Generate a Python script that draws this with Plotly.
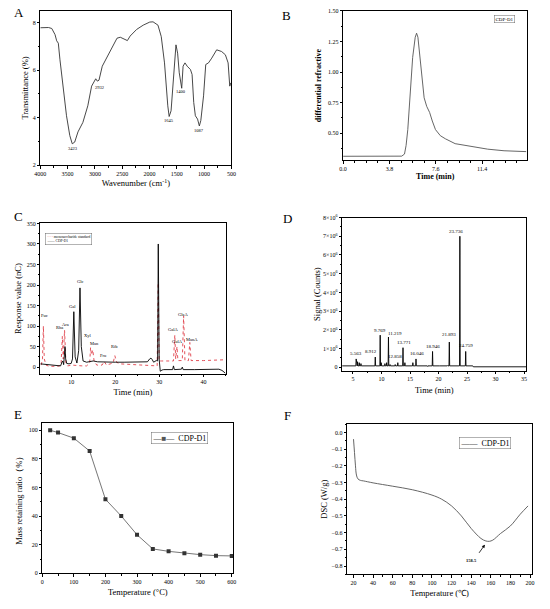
import plotly.graph_objects as go

SERIF = "Liberation Serif"

# ── A: FTIR ──────────────────────────────────────────────────────────────────
ftir_wn = [4000, 3850, 3790, 3730, 3700, 3670, 3640, 3580, 3520, 3460, 3415, 3370,
           3310, 3220, 3130, 3060, 3010, 2985, 2955, 2925, 2865, 2775, 2685, 2595,
           2535, 2445, 2405, 2355, 2235, 2115, 1995, 1935, 1845, 1785, 1725, 1665,
           1640, 1605, 1545, 1515, 1485, 1455, 1410, 1385, 1350, 1310, 1250, 1220,
           1190, 1160, 1120, 1087, 1060, 1010, 970, 920, 860, 770, 680, 610, 560,
           530, 510]
ftir_t = [7.79, 7.80, 7.76, 7.50, 7.24, 7.14, 6.44, 5.20, 4.08, 3.25, 2.90, 2.97,
          3.40, 3.80, 4.50, 5.33, 5.58, 5.64, 5.54, 5.58, 6.17, 6.58, 7.00, 7.35,
          7.39, 7.30, 7.25, 7.44, 7.72, 7.90, 8.03, 8.04, 7.90, 7.42, 6.31, 4.50,
          4.05, 4.29, 6.31, 7.07, 6.72, 5.89, 5.24, 6.17, 6.31, 6.17, 6.03, 5.82,
          4.64, 4.08, 3.94, 3.65, 3.88, 4.92, 6.24, 6.31, 6.51, 6.86, 6.79, 6.65,
          6.31, 5.33, 5.47]
ftir_lab = ["3423", "2932", "1645", "1400", "1087"]
ftir_lab_x = [3405, 2915, 1650, 1415, 1090]
ftir_lab_y = [2.72, 5.27, 3.86, 5.10, 3.45]

# ── B: HPGPC ─────────────────────────────────────────────────────────────────
gpc_t = [0.0, 2.0, 4.0, 4.8, 5.03, 5.16, 5.30, 5.49, 5.70, 5.91, 6.02, 6.13, 6.32,
         6.50, 6.64, 6.85, 7.09, 7.31, 7.57, 7.97, 8.38, 9.18, 10.52, 11.85,
         13.19, 15.0]
gpc_v = [0.312, 0.312, 0.312, 0.313, 0.33, 0.40, 0.53, 0.855, 1.12, 1.285, 1.318,
         1.285, 1.10, 0.88, 0.79, 0.72, 0.67, 0.60, 0.53, 0.48, 0.455, 0.415,
         0.39, 0.37, 0.357, 0.35]

# ── C: HPAEC ─────────────────────────────────────────────────────────────────
cdp_t = [3.0, 4.0, 5.0, 6.0, 7.0, 7.6, 7.9, 8.1, 8.3, 8.5, 8.6, 8.75, 9.0, 9.5,
         10.0, 10.3, 10.6, 10.9, 11.3, 11.7, 12.0, 12.3, 12.7, 13.5, 14.5, 15.0,
         16.0, 18.0, 20.0, 22.0, 24.0, 26.0, 27.3, 27.8, 28.1, 28.4, 28.7, 29.0,
         29.3, 29.6, 29.75, 29.95, 30.2, 30.6, 31.0, 33.0, 33.2, 33.4, 35.0, 35.2,
         35.4, 38.0, 42.0, 43.5, 44.2, 45.0]
cdp_v = [8, 7, 5, 4, 3, 3, 12, 15, 6, 30, 50, 20, 9, 8, 9, 20, 135, 25, 10, 40,
         193, 50, 15, 12, 15, 15, 13, 12, 12, 12, 12, 12, 13, 20, 22, 18, 12, 14,
         16, 15, 300, 20, -10, -7, -6, -6, 3, -6, -5, 0, -6, -6, -5, -5, -8, -15]
std_t = [3.2, 3.5, 3.7, 3.9, 4.3, 5.0, 7.0, 7.7, 8.0, 8.2, 8.5, 8.8, 9.2, 10.2,
         12.5, 13.5, 14.2, 14.4, 14.6, 14.9, 15.2, 15.8, 17.0, 17.5, 18.0, 19.5,
         19.9, 20.3, 21.0, 24.0, 27.0, 28.0, 29.5, 29.75, 29.95, 30.5, 33.2, 33.5,
         33.7, 34.0, 34.2, 35.2, 35.5, 35.8, 36.6, 36.9, 37.2, 40.0, 45.0]
std_v = [5, 20, 100, 20, 5, 2, 2, 5, 75, 20, 90, 10, 3, 5, 3, 3, 10, 48, 30, 42,
         15, 5, 5, 14, 5, 10, 28, 12, 8, 6, 5, 3, 3, 205, 15, 15, 15, 78, 20, 50,
         16, 16, 125, 16, 16, 60, 16, 16, 18]
mono_lab = ["Fuc", "Rha", "Ara", "Gal", "Glc", "Xyl", "Man", "Fru", "Rib",
            "GalA", "GulA", "GlcA", "ManA"]
mono_x = [4.0, 7.4, 8.7, 10.3, 12.1, 13.9, 15.2, 17.4, 19.9, 33.1, 34.0, 35.3, 37.4]
mono_y = [126, 97, 104, 147, 208, 78, 58, 28, 50, 92, 62, 128, 68]

# ── D: GC-MS ─────────────────────────────────────────────────────────────────
gc_peak_t = [4.8, 5.56, 5.8, 6.1, 6.4, 8.91, 9.77, 9.95, 10.6, 10.9, 11.22, 11.5,
             12.4, 12.86, 13.77, 14.1, 15.5, 16.05, 18.1, 18.95, 20.2, 21.6,
             21.89, 23.74, 24.76]
gc_peak_h = [0.12, 0.45, 0.30, 0.25, 0.20, 0.55, 1.72, 0.25, 0.20, 0.25, 1.62,
             0.15, 0.15, 0.25, 1.05, 0.25, 0.25, 0.45, 0.05, 0.85, 0.07, 0.10,
             1.35, 7.0, 0.85]
gc_lab = ["5.563", "8.912", "9.769", "11.219", "12.858", "13.771", "16.046",
          "18.946", "21.893", "23.736", "24.759"]
gc_lab_x = [5.6, 8.2, 9.8, 12.3, 12.3, 13.9, 16.3, 19.0, 21.9, 23.1, 24.9]
gc_lab_y = [0.74, 0.83, 1.97, 1.83, 0.56, 1.32, 0.74, 1.14, 1.74, 7.26, 1.16]

# ── E: TGA ───────────────────────────────────────────────────────────────────
tga_temp = [25, 50, 100, 150, 200, 250, 300, 350, 400, 450, 500, 550, 600]
tga_mass = [100, 98.4, 94.5, 85.5, 51.8, 40.1, 27.0, 17.1, 15.4, 14.0, 13.1, 12.4, 12.2]

# ── F: DSC ───────────────────────────────────────────────────────────────────
dsc_temp = [20, 21, 22, 23, 24.5, 27, 30, 40, 60, 80, 100, 110, 120, 130, 140,
            150, 155, 158.5, 162, 170, 180, 190, 198]
dsc_val = [-0.04, -0.12, -0.20, -0.255, -0.278, -0.287, -0.29, -0.302, -0.322,
           -0.343, -0.375, -0.40, -0.44, -0.50, -0.575, -0.635, -0.65, -0.652,
           -0.645, -0.605, -0.56, -0.49, -0.44]

W, H = 550, 609


def px(x):
    return x / W


def py(y):
    return 1 - y / H


def axis(dom, rng, anchor, title, standoff=2, **kw):
    d = dict(
        domain=dom, range=rng, anchor=anchor, automargin=True,
        showline=True, linecolor='black', linewidth=0.8, mirror=True,
        ticks='outside', ticklen=2.5, tickwidth=0.7, tickcolor='black',
        showgrid=False, zeroline=False,
        tickfont=dict(size=6, family=SERIF, color='black'),
        title=dict(text=title, font=dict(size=8.5, family=SERIF, color='black'),
                   standoff=standoff),
    )
    d.update(kw)
    return d


minor = lambda dt: dict(ticks='outside', ticklen=1.5, tickwidth=0.6,
                        tickcolor='black', dtick=dt, showgrid=False)

fig = go.Figure()

# A
fig.add_trace(go.Scatter(x=ftir_wn, y=ftir_t, mode='lines', xaxis='x', yaxis='y',
                         line=dict(color='#333333', width=0.9)))
# B
fig.add_trace(go.Scatter(x=gpc_t, y=gpc_v, mode='lines', xaxis='x2', yaxis='y2',
                         line=dict(color='#555555', width=0.9)))
# C
fig.add_trace(go.Scatter(x=std_t, y=std_v, mode='lines', xaxis='x3', yaxis='y3',
                         name='monosaccharide standard',
                         line=dict(color='#e0404a', width=0.9, dash='dot')))
fig.add_trace(go.Scatter(x=cdp_t, y=cdp_v, mode='lines', xaxis='x3', yaxis='y3',
                         name='CDP-D1', line=dict(color='black', width=0.9)))
# D: build stick peaks on a small baseline
gc_x, gc_y = [3.1], [0.08]
for t, h in zip(gc_peak_t, gc_peak_h):
    gc_x += [t - 0.06, t, t + 0.06]
    gc_y += [0.08, h, 0.08]
gc_x += [26.0, 26.1, 35.4]
gc_y += [0.08, 0.03, 0.03]
fig.add_trace(go.Scatter(x=gc_x, y=[v * 1e6 for v in gc_y], mode='lines',
                         xaxis='x4', yaxis='y4', line=dict(color='black', width=0.9)))
# E
fig.add_trace(go.Scatter(x=tga_temp, y=tga_mass, mode='lines+markers',
                         xaxis='x5', yaxis='y5', name='CDP-D1',
                         line=dict(color='#666666', width=0.9),
                         marker=dict(symbol='square', size=4, color='#333333')))
# F
fig.add_trace(go.Scatter(x=dsc_temp, y=dsc_val, mode='lines', xaxis='x6',
                         yaxis='y6', name='CDP-D1',
                         line=dict(color='#555555', width=0.9, shape='spline')))

ann = []
small = dict(family=SERIF, size=4.5, color='black')
for t, x, y in zip(ftir_lab, ftir_lab_x, ftir_lab_y):
    ann.append(dict(text=t, x=x, y=y, xref='x', yref='y', showarrow=False, font=small))
for t, x, y in zip(mono_lab, mono_x, mono_y):
    ann.append(dict(text=t, x=x, y=y, xref='x3', yref='y3', showarrow=False, font=small))
for t, x, y in zip(gc_lab, gc_lab_x, gc_lab_y):
    ann.append(dict(text=t, x=x, y=y * 1e6, xref='x4', yref='y4', showarrow=False,
                    font=dict(family=SERIF, size=5, color='black')))


def legend_box(text, x, y, size):
    return dict(text=text, x=px(x), y=py(y), xref='paper', yref='paper',
                xanchor='left', yanchor='top', align='left', showarrow=False,
                bgcolor='white', bordercolor='#666666', borderwidth=0.5, borderpad=1,
                font=dict(family=SERIF, size=size, color='black'))


# legend boxes drawn as text (Origin style, tighter than plotly legends)
ann.append(legend_box('CDP-D1', 498, 11, 5))
ann.append(legend_box("<span style='color:#e0404a'>- - -</span> monosaccharide standard"
                      "<br>—— CDP-D1", 40, 232, 3.6))
ann.append(legend_box("<span style='color:#555555'>—■—</span>  CDP-D1", 148, 433, 8))
ann.append(legend_box("<span style='color:#555555'>——</span>  CDP-D1", 462, 438, 8))

ann.append(dict(text='<b>158.5</b>', x=140, y=-0.765, xref='x6', yref='y6',
                showarrow=False, font=dict(family=SERIF, size=4.5, color='black')))
ann.append(dict(text='', x=154, y=-0.672, ax=147, ay=-0.73, xref='x6', yref='y6',
                axref='x6', ayref='y6', showarrow=True, arrowhead=2,
                arrowsize=0.8, arrowwidth=0.8, arrowcolor='black'))

for letter, x, y in [('A', 13.5, 8.5), ('B', 286, 11.5), ('C', 12.5, 215),
                     ('D', 287.5, 217), ('E', 12, 415), ('F', 287, 416)]:
    ann.append(dict(text=letter, x=px(x), y=py(y), xref='paper', yref='paper',
                    xanchor='center', yanchor='middle', showarrow=False,
                    font=dict(family=SERIF, size=13, color='black')))

bold = dict(size=8, family=SERIF, color='black', weight='bold')

fig.update_layout(
    template='none',
    width=W, height=H,
    margin=dict(l=0, r=0, t=0, b=0),
    paper_bgcolor='white', plot_bgcolor='white',
    font=dict(family=SERIF, color='black'),
    showlegend=False,
    annotations=ann,
    # A
    xaxis=axis([px(35), px(230)], [4000, 500], 'y', 'Wavenumber (cm<sup>-1</sup>)',
               standoff=4, dtick=500, minor=minor(250)),
    yaxis=axis([py(163), py(7)], [2, 8.5], 'x', 'Transmittance (%)',
               standoff=2, dtick=2, minor=minor(1)),
    # B
    xaxis2=axis([px(344), px(532)], [0, 15.1], 'y2', 'Time (min)', standoff=1,
                tickvals=[0, 3.8, 7.6, 11.4], tickformat='.1f',
                minor=dict(ticks='outside', ticklen=1.5, tickcolor='black',
                           tickvals=[0.95, 1.9, 2.85, 4.75, 5.7, 6.65, 8.55, 9.5,
                                     10.45, 12.35, 13.3, 14.25])),
    yaxis2=axis([py(158), py(7)], [0.28, 1.5], 'x2', 'differential refractive',
                standoff=5, tickvals=[0.5, 0.75, 1.0, 1.25, 1.5], tickformat='.2f',
                minor=minor(0.125)),
    # C
    xaxis3=axis([px(35), px(224)], [3, 45], 'y3', 'Time (min)', standoff=4,
                dtick=10, minor=minor(5)),
    yaxis3=axis([py(374), py(222)], [-16, 350], 'x3', 'Response value (nC)',
                standoff=3, dtick=50, minor=minor(25)),
    # D
    xaxis4=axis([px(343), px(531)], [3.1, 35.4], 'y4', 'Time (min)', standoff=5,
                dtick=5, minor=minor(2.5)),
    yaxis4=axis([py(371), py(216)], [-0.18e6, 8e6], 'x4', 'Signal (Counts)',
                standoff=1, tickvals=[i * 1e6 for i in range(9)],
                ticktext=['0'] + [f'{i}×10<sup>6</sup>' for i in range(1, 9)],
                minor=minor(0.5e6)),
    # E
    xaxis5=axis([px(37), px(232)], [0, 605], 'y5', 'Temperature (°C)', standoff=5,
                dtick=100, minor=minor(50)),
    yaxis5=axis([py(576), py(424)], [0, 105], 'x5', 'Mass retaining ratio（%）',
                standoff=4, dtick=20, minor=minor(10)),
    # F
    xaxis6=axis([px(348), px(537)], [13.4, 202.3], 'y6', 'Temperature (℃)',
                standoff=5, tick0=20, dtick=20, minor=minor(10)),
    yaxis6=axis([py(577), py(425)], [-0.85, 0.05], 'x6', 'DSC (W/g)',
                standoff=2, dtick=0.1, tickformat='.1f', minor=minor(0.05)),
)

# bold titles in panel B
fig.layout.xaxis2.title.font = bold
fig.layout.yaxis2.title.font = bold

# page body has a default 8px margin; drop it so the figure sits at the origin
fig.write_html("out.html", config={'displayModeBar': False},
               post_script="document.body.style.margin='0';")
